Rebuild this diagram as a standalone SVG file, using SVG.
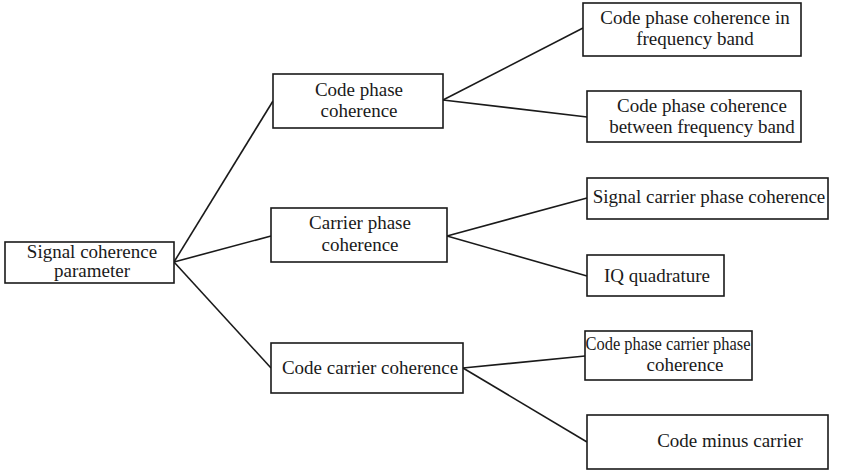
<svg xmlns="http://www.w3.org/2000/svg" width="868" height="471" viewBox="0 0 868 471">
<style>
.box{fill:#fff;stroke:#1a1a1a;stroke-width:1.6}
.t{font-family:"Liberation Serif","Times New Roman",serif;font-size:19px;fill:#1a1a1a;text-anchor:middle}
.c line{stroke:#1a1a1a;stroke-width:1.6}
</style>
<rect width="868" height="471" fill="#fff"/>
<g class="c" id="connectors">
<line x1="174" y1="262" x2="273" y2="101"/>
<line x1="174" y1="262" x2="271" y2="236"/>
<line x1="174" y1="262" x2="271" y2="368"/>
<line x1="443" y1="100" x2="583" y2="28"/>
<line x1="443" y1="100" x2="587" y2="117"/>
<line x1="447" y1="236" x2="587" y2="198"/>
<line x1="447" y1="236" x2="587" y2="276"/>
<line x1="463" y1="368" x2="585" y2="356"/>
<line x1="463" y1="368" x2="587" y2="442"/>
</g>
<g id="root"><rect class="box" x="5" y="242" width="169" height="41"/><text class="t" x="92" y="258">Signal coherence</text><text class="t" x="92" y="277">parameter</text></g>
<g id="codephase"><rect class="box" x="273" y="74" width="170" height="54"/><text class="t" x="359" y="96">Code phase</text><text class="t" x="359" y="117">coherence</text></g>
<g id="carrierphase"><rect class="box" x="271" y="208" width="176" height="54"/><text class="t" x="360" y="229">Carrier phase</text><text class="t" x="360" y="251">coherence</text></g>
<g id="codecarrier"><rect class="box" x="271" y="343" width="192" height="50"/><text class="t" x="370" y="374">Code carrier coherence</text></g>
<g id="cpc-in"><rect class="box" x="583" y="3" width="218" height="53"/><text class="t" x="695" y="24">Code phase coherence in</text><text class="t" x="695" y="45">frequency band</text></g>
<g id="cpc-between"><rect class="box" x="587" y="91" width="214" height="51"/><text class="t" x="702" y="112">Code phase coherence</text><text class="t" x="702" y="133">between frequency band</text></g>
<g id="scpc"><rect class="box" x="587" y="178" width="241" height="41"/><text class="t" x="709" y="203">Signal carrier phase coherence</text></g>
<g id="iq"><rect class="box" x="587" y="255" width="137" height="41"/><text class="t" x="657" y="282">IQ quadrature</text></g>
<g id="cpcpc"><rect class="box" x="585" y="331" width="167" height="49"/><text class="t" x="668" y="350" textLength="165" lengthAdjust="spacingAndGlyphs">Code phase carrier phase</text><text class="t" x="685" y="371">coherence</text></g>
<g id="cmc"><rect class="box" x="587" y="415" width="241" height="54"/><text class="t" x="730" y="447">Code minus carrier</text></g>
</svg>
